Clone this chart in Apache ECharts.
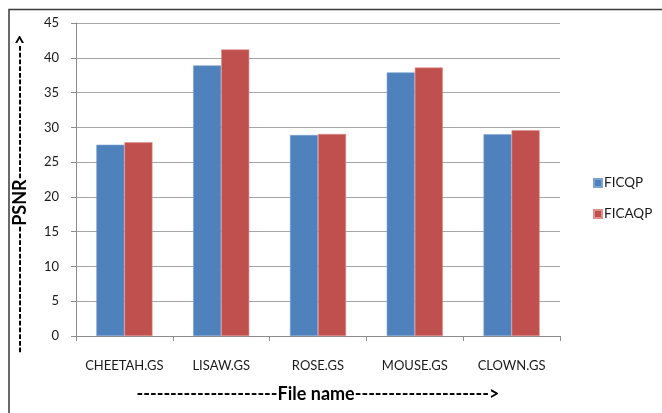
<!DOCTYPE html>
<html>
<head>
<meta charset="utf-8">
<script src="https://cdn.jsdelivr.net/npm/echarts@6/dist/echarts.min.js"></script>
<style>
  html, body { margin: 0; padding: 0; background: #ffffff; }
  #chart { width: 662px; height: 413px; }
</style>
</head>
<body>
<div id="chart"></div>
<script>
// PSNR per test image for the two coding schemes
const categories = ['CHEETAH.GS', 'LISAW.GS', 'ROSE.GS', 'MOUSE.GS', 'CLOWN.GS'];
const ficqp = [27.5, 38.9, 28.9, 37.9, 29.0];
const ficaqp = [27.85, 41.2, 29.05, 38.6, 29.6];
const seriesNames = ['FICQP', 'FICAQP'];
const yTicks = { min: 0, max: 45, interval: 5 };

const xTitle = '---------------------File name-------------------->';
const yTitle = '-------------------PSNR-------------------->';

const font = 'Lato, "Liberation Sans", sans-serif';
const chart = echarts.init(document.getElementById('chart'), null, { renderer: 'canvas' });

chart.setOption({
  animation: false,
  backgroundColor: '#ffffff',
  textStyle: { fontFamily: font },
  grid: { left: 76, top: 23, right: 102, bottom: 77, containLabel: false },
  legend: {
    orient: 'vertical',
    left: 593,
    top: 176,
    padding: 0,
    itemWidth: 8,
    itemHeight: 8,
    itemGap: 17,
    icon: 'rect',
    data: seriesNames,
    textStyle: { fontFamily: font, fontSize: 13.5, color: '#1a1a1a', padding: [0, 0, 0, -3] }
  },
  xAxis: {
    type: 'category',
    data: categories,
    name: xTitle,
    nameLocation: 'middle',
    nameGap: 49,
    nameTextStyle: { fontFamily: font, fontSize: 18, fontWeight: 'bold', color: '#000' },
    axisLine: { lineStyle: { color: '#8c8c8c', width: 1 } },
    axisTick: { show: true, inside: false, length: 5, lineStyle: { color: '#8c8c8c' } },
    axisLabel: { interval: 0, fontFamily: font, fontSize: 13, color: '#1a1a1a', margin: 23 },
    splitLine: { show: false }
  },
  yAxis: {
    type: 'value',
    min: yTicks.min,
    max: yTicks.max,
    interval: yTicks.interval,
    axisLine: { show: true, lineStyle: { color: '#8c8c8c', width: 1 } },
    axisTick: { show: true, inside: false, length: 5, lineStyle: { color: '#8c8c8c' } },
    axisLabel: { fontFamily: font, fontSize: 13, color: '#1a1a1a', margin: 17 },
    splitLine: { show: true, lineStyle: { color: '#a6a6a6', width: 1 } }
  },
  series: [
    {
      name: seriesNames[0],
      type: 'bar',
      data: ficqp,
      barGap: '0%',
      barCategoryGap: '42%',
      itemStyle: { color: '#4f81bd', borderColor: '#7fa3d0', borderWidth: 0.6 }
    },
    {
      name: seriesNames[1],
      type: 'bar',
      data: ficaqp,
      itemStyle: { color: '#c0504d', borderColor: '#e08f8d', borderWidth: 0.6 }
    }
  ],
  graphic: [
    {
      type: 'text',
      x: 20,
      y: 194,
      rotation: Math.PI / 2,
      style: {
        text: yTitle,
        fontFamily: font,
        fontSize: 18,
        fontWeight: 'bold',
        fill: '#000',
        align: 'center',
        verticalAlign: 'middle'
      }
    },
    {
      type: 'polyline',
      shape: { points: [[9, 420], [9, 9.5], [670, 9.5]] },
      style: { stroke: '#3a3a3a', lineWidth: 1.5, fill: null }
    }
  ]
});
</script>
</body>
</html>
